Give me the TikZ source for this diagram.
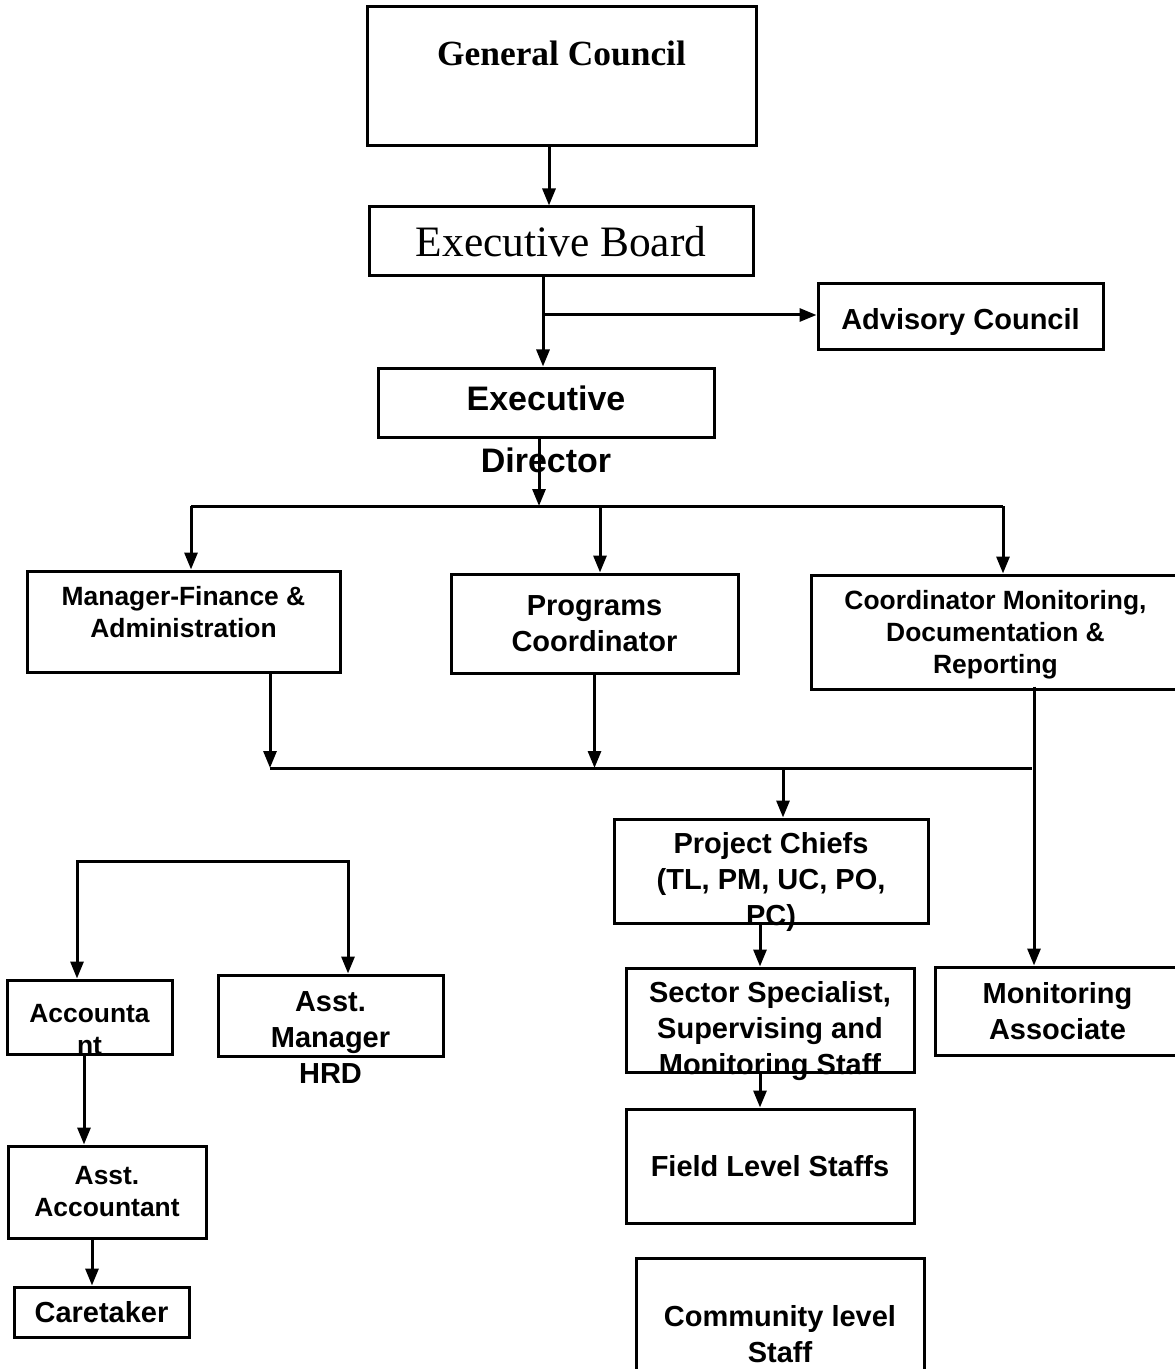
\documentclass[tikz,border=0pt]{standalone}
\usepackage{fontspec}
\setmainfont{Liberation Serif}
\setsansfont{Liberation Sans}
\usetikzlibrary{arrows.meta, positioning}

\newcommand{\boxfont}{\sffamily\bfseries\fontsize{14.5}{18}\selectfont}
\newcommand{\smallboxfont}{\sffamily\bfseries\fontsize{13.2}{16}\selectfont}
\newcommand{\bigboxfont}{\sffamily\bfseries\fontsize{17}{20}\selectfont}

\begin{document}
\begin{tikzpicture}[x=0.5pt, y=-0.5pt, >={Triangle[length=8.5pt, width=6.5pt]},
	box/.style={draw, line width=1.5pt, align=center, inner sep=0pt, font=\boxfont},
	smallbox/.style={box, font=\smallboxfont},
	txt/.style={align=center, inner sep=0pt, font=\boxfont},
	line/.style={line width=1.5pt}]
	\useasboundingbox (0,0) rectangle (1174,1369);

		% top of the chart
		\node[box, minimum width=194.5pt, minimum height=69.5pt, label={[txt, font=\rmfamily\bfseries\fontsize{17.7}{21}\selectfont, yshift=11.75pt]center:General Council}] (genCouncil) at (561.5,76.5) {};
		\node[box, font=\rmfamily\fontsize{21.7}{26}\selectfont, minimum width=192pt, minimum height=34.5pt] (exBoard) at (561,241.5) {Executive Board};
		\node[box, minimum width=142.5pt, minimum height=33pt, label={[txt, yshift=-2.5pt]center:Advisory Council}] (advCouncil) at (960.5,317) {};
		\node[box, minimum width=168pt, minimum height=34.5pt, label={[txt, font=\bigboxfont, yshift=2pt]center:Executive}, label={[txt, font=\bigboxfont, label distance=4.5pt]below:Director}] (exDirector) at (546,402.5) {};

		% second level
		\node[smallbox, minimum width=156.5pt, minimum height=50.5pt, label={[txt, font=\smallboxfont, yshift=4.75pt]center:{Manager-Finance \&\\Administration}}] (mgrFinance) at (183.5,621.5) {};
		\node[box, minimum width=143.5pt, minimum height=49.5pt] (progCoord) at (594.5,623.5) {Programs\\Coordinator};
		\node[smallbox, minimum width=184.5pt, minimum height=57pt, label={[txt, font=\smallboxfont, yshift=-1.5pt]center:{Coordinator Monitoring,\\Documentation \&\\Reporting}}] (coordMon) at (995.5,632) {};

		% programme side
		\node[box, minimum width=157pt, minimum height=52pt, label={[txt, yshift=-5.5pt]center:{Project Chiefs\\(TL, PM, UC, PO,\\PC)}}] (projChiefs) at (771,871) {};
		\node[box, minimum width=144pt, minimum height=52pt, label={[txt, yshift=-5.5pt]center:{Sector Specialist,\\Supervising and\\Monitoring Staff}}] (sectorSpec) at (770,1020) {};
		\node[box, minimum width=144pt, minimum height=57pt] (fieldStaff) at (770,1166) {Field Level Staffs};
		\node[box, minimum width=144pt, minimum height=76pt] (communityStaff) at (780,1334) {Community level\\Staff};
		\node[box, minimum width=122.5pt, minimum height=44pt] (monAssoc) at (1057.5,1011) {Monitoring\\Associate};

		% finance side
		\node[smallbox, minimum width=82.5pt, minimum height=37pt, label={[txt, font=\smallboxfont, yshift=-6.5pt]center:{Accounta\\nt}}] (accountant) at (89.5,1017) {};
		\node[box, minimum width=112.5pt, minimum height=40.5pt, label={[txt, yshift=-11.25pt]center:{Asst.\\Manager\\HRD}}] (asstMgr) at (330.5,1015.5) {};
		\node[smallbox, minimum width=99pt, minimum height=46pt] (asstAcct) at (107,1192) {Asst.\\Accountant};
		\node[box, minimum width=87.5pt, minimum height=25pt] (caretaker) at (101.5,1312) {Caretaker};

		\coordinate (advSplit) at (543,315);
		\coordinate (dirSplit) at (539,506);
		\coordinate (finTop) at (191,506);
		\coordinate (progTop) at (600,506);
		\coordinate (monTop) at (1003,506);
		\coordinate (finLow) at (270,768);
		\coordinate (chiefTop) at (783,768);
		\coordinate (monLow) at (1032,768);
		\coordinate (acctTop) at (77,861);
		\coordinate (hrdTop) at (348,861);

		\draw[line, ->] ([xshift=-6.25pt]genCouncil.south) -- ([xshift=-6.25pt]genCouncil.south |- exBoard.north);
		\draw[line, ->] ([xshift=-9pt]exBoard.south) -- ([xshift=-9pt]exBoard.south |- exDirector.north);
		\draw[line, ->] (advSplit) -- (advSplit -| advCouncil.west);
		\draw[line, ->] (exDirector.south -| dirSplit) -- (dirSplit);

		\draw[line] (finTop) -- (monTop);
		\draw[line, ->] (finTop) -- (finTop |- mgrFinance.north);
		\draw[line, ->] (progTop) -- (progTop |- progCoord.north);
		\draw[line, ->] (monTop) -- (monTop |- coordMon.north);

		\draw[line, ->] (finLow |- mgrFinance.south) -- (finLow);
		\draw[line, ->] (progCoord.south) -- (progCoord.south |- finLow);
		\draw[line] (finLow) -- (monLow);
		\draw[line, ->] (chiefTop) -- (chiefTop |- projChiefs.north);
		\draw[line, ->] ([xshift=19.25pt, yshift=2pt]coordMon.south) -- ([xshift=19.25pt]coordMon.south |- monAssoc.north);

		\draw[line, ->] ([xshift=-5.5pt]projChiefs.south) -- ([xshift=-5.5pt]projChiefs.south |- sectorSpec.north);
		\draw[line, ->] ([xshift=-5pt]sectorSpec.south) -- ([xshift=-5pt]sectorSpec.south |- fieldStaff.north);

		\draw[line, <->] (acctTop |- accountant.north) -- (acctTop) -- (hrdTop) -- (hrdTop |- asstMgr.north);
		\draw[line, ->] ([xshift=-2.75pt]accountant.south) -- ([xshift=-2.75pt]accountant.south |- asstAcct.north);
		\draw[line, ->] ([xshift=-7.5pt]asstAcct.south) -- ([xshift=-7.5pt]asstAcct.south |- caretaker.north);

\end{tikzpicture}
\end{document}
